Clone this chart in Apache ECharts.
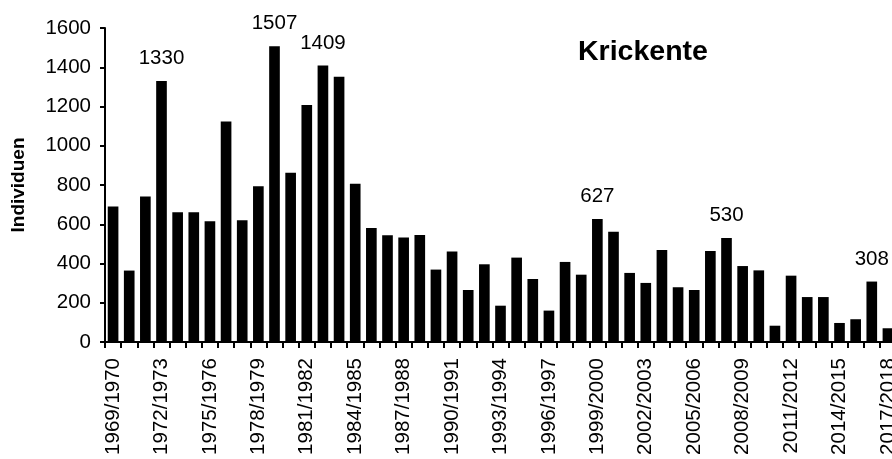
<!DOCTYPE html>
<html>
<head>
<meta charset="utf-8">
<script src="https://cdn.jsdelivr.net/npm/echarts@6/dist/echarts.min.js"></script>
<style>
  html, body { margin: 0; padding: 0; background: #fff; }
  #chart { width: 892px; height: 459px; }
</style>
</head>
<body>
<div id="chart"></div>
<script>
  // Wintersaisons
  var seasons = [
    '1969/1970', '1970/1971', '1971/1972', '1972/1973', '1973/1974', '1974/1975', '1975/1976',
    '1976/1977', '1977/1978', '1978/1979', '1979/1980', '1980/1981', '1981/1982', '1982/1983',
    '1983/1984', '1984/1985', '1985/1986', '1986/1987', '1987/1988', '1988/1989', '1989/1990',
    '1990/1991', '1991/1992', '1992/1993', '1993/1994', '1994/1995', '1995/1996', '1996/1997',
    '1997/1998', '1998/1999', '1999/2000', '2000/2001', '2001/2002', '2002/2003', '2003/2004',
    '2004/2005', '2005/2006', '2006/2007', '2007/2008', '2008/2009', '2009/2010', '2010/2011',
    '2011/2012', '2012/2013', '2013/2014', '2014/2015', '2015/2016', '2016/2017', '2017/2018'
  ];
  // Individuen (Krickente)
  var individuen = [
    690, 364, 742, 1330, 661, 661, 615, 1123, 620, 793,
    1507, 863, 1208, 1409, 1352, 807, 581, 544, 532, 545,
    369, 461, 265, 396, 185, 430, 321, 160, 408, 343,
    627, 562, 352, 301, 469, 279, 265, 464, 530, 387,
    365, 83, 338, 229, 229, 97, 116, 308, 70
  ];
  // Saisons mit Wertbeschriftung
  var labelled = ['1972/1973', '1979/1980', '1982/1983', '1999/2000', '2007/2008', '2016/2017'];
  var yTicks = [0, 200, 400, 600, 800, 1000, 1200, 1400, 1600];

  var font = '"Liberation Sans", Arial, sans-serif';
  var barData = [];
  for (var i = 0; i < individuen.length; i++) {
    barData.push({
      value: individuen[i],
      label: { show: labelled.indexOf(seasons[i]) >= 0 }
    });
  }

  var myChart = echarts.init(document.getElementById('chart'));
  myChart.setOption({
    animation: false,
    backgroundColor: '#fff',
    title: {
      text: 'Krickente',
      left: 573,
      top: 33,
      textStyle: { fontFamily: font, fontSize: 28.5, fontWeight: 'bold', color: '#000' }
    },
    grid: { left: 105, right: -4, top: 28, bottom: 117, outerBoundsMode: 'none', containLabel: false },
    xAxis: {
      type: 'category',
      data: seasons,
      axisLine: { lineStyle: { color: '#000', width: 2 } },
      axisTick: { show: true, interval: 0, length: 6, lineStyle: { color: '#000', width: 2 } },
      axisLabel: {
        interval: 2, rotate: 90, margin: 16,
        fontFamily: font, fontSize: 20.5, color: '#000'
      }
    },
    yAxis: {
      type: 'value',
      min: yTicks[0],
      max: yTicks[yTicks.length - 1],
      interval: 200,
      name: 'Individuen',
      nameLocation: 'middle',
      nameRotate: 90,
      nameGap: 77,
      nameTextStyle: { fontFamily: font, fontSize: 19, fontWeight: 'bold', color: '#000' },
      axisLine: { show: true, lineStyle: { color: '#000', width: 2 } },
      axisTick: { show: true, length: 5, lineStyle: { color: '#000', width: 2 } },
      axisLabel: {
        margin: 14, fontFamily: font, fontSize: 20.5, color: '#000',
        formatter: function (v) { return String(v); }
      },
      splitLine: { show: false }
    },
    series: [{
      name: 'Individuen',
      type: 'bar',
      data: barData,
      barCategoryGap: '34%',
      itemStyle: { color: '#000' },
      label: {
        position: 'top',
        distance: 12,
        fontFamily: font,
        fontSize: 20.5,
        color: '#000'
      }
    }]
  });
</script>
</body>
</html>
